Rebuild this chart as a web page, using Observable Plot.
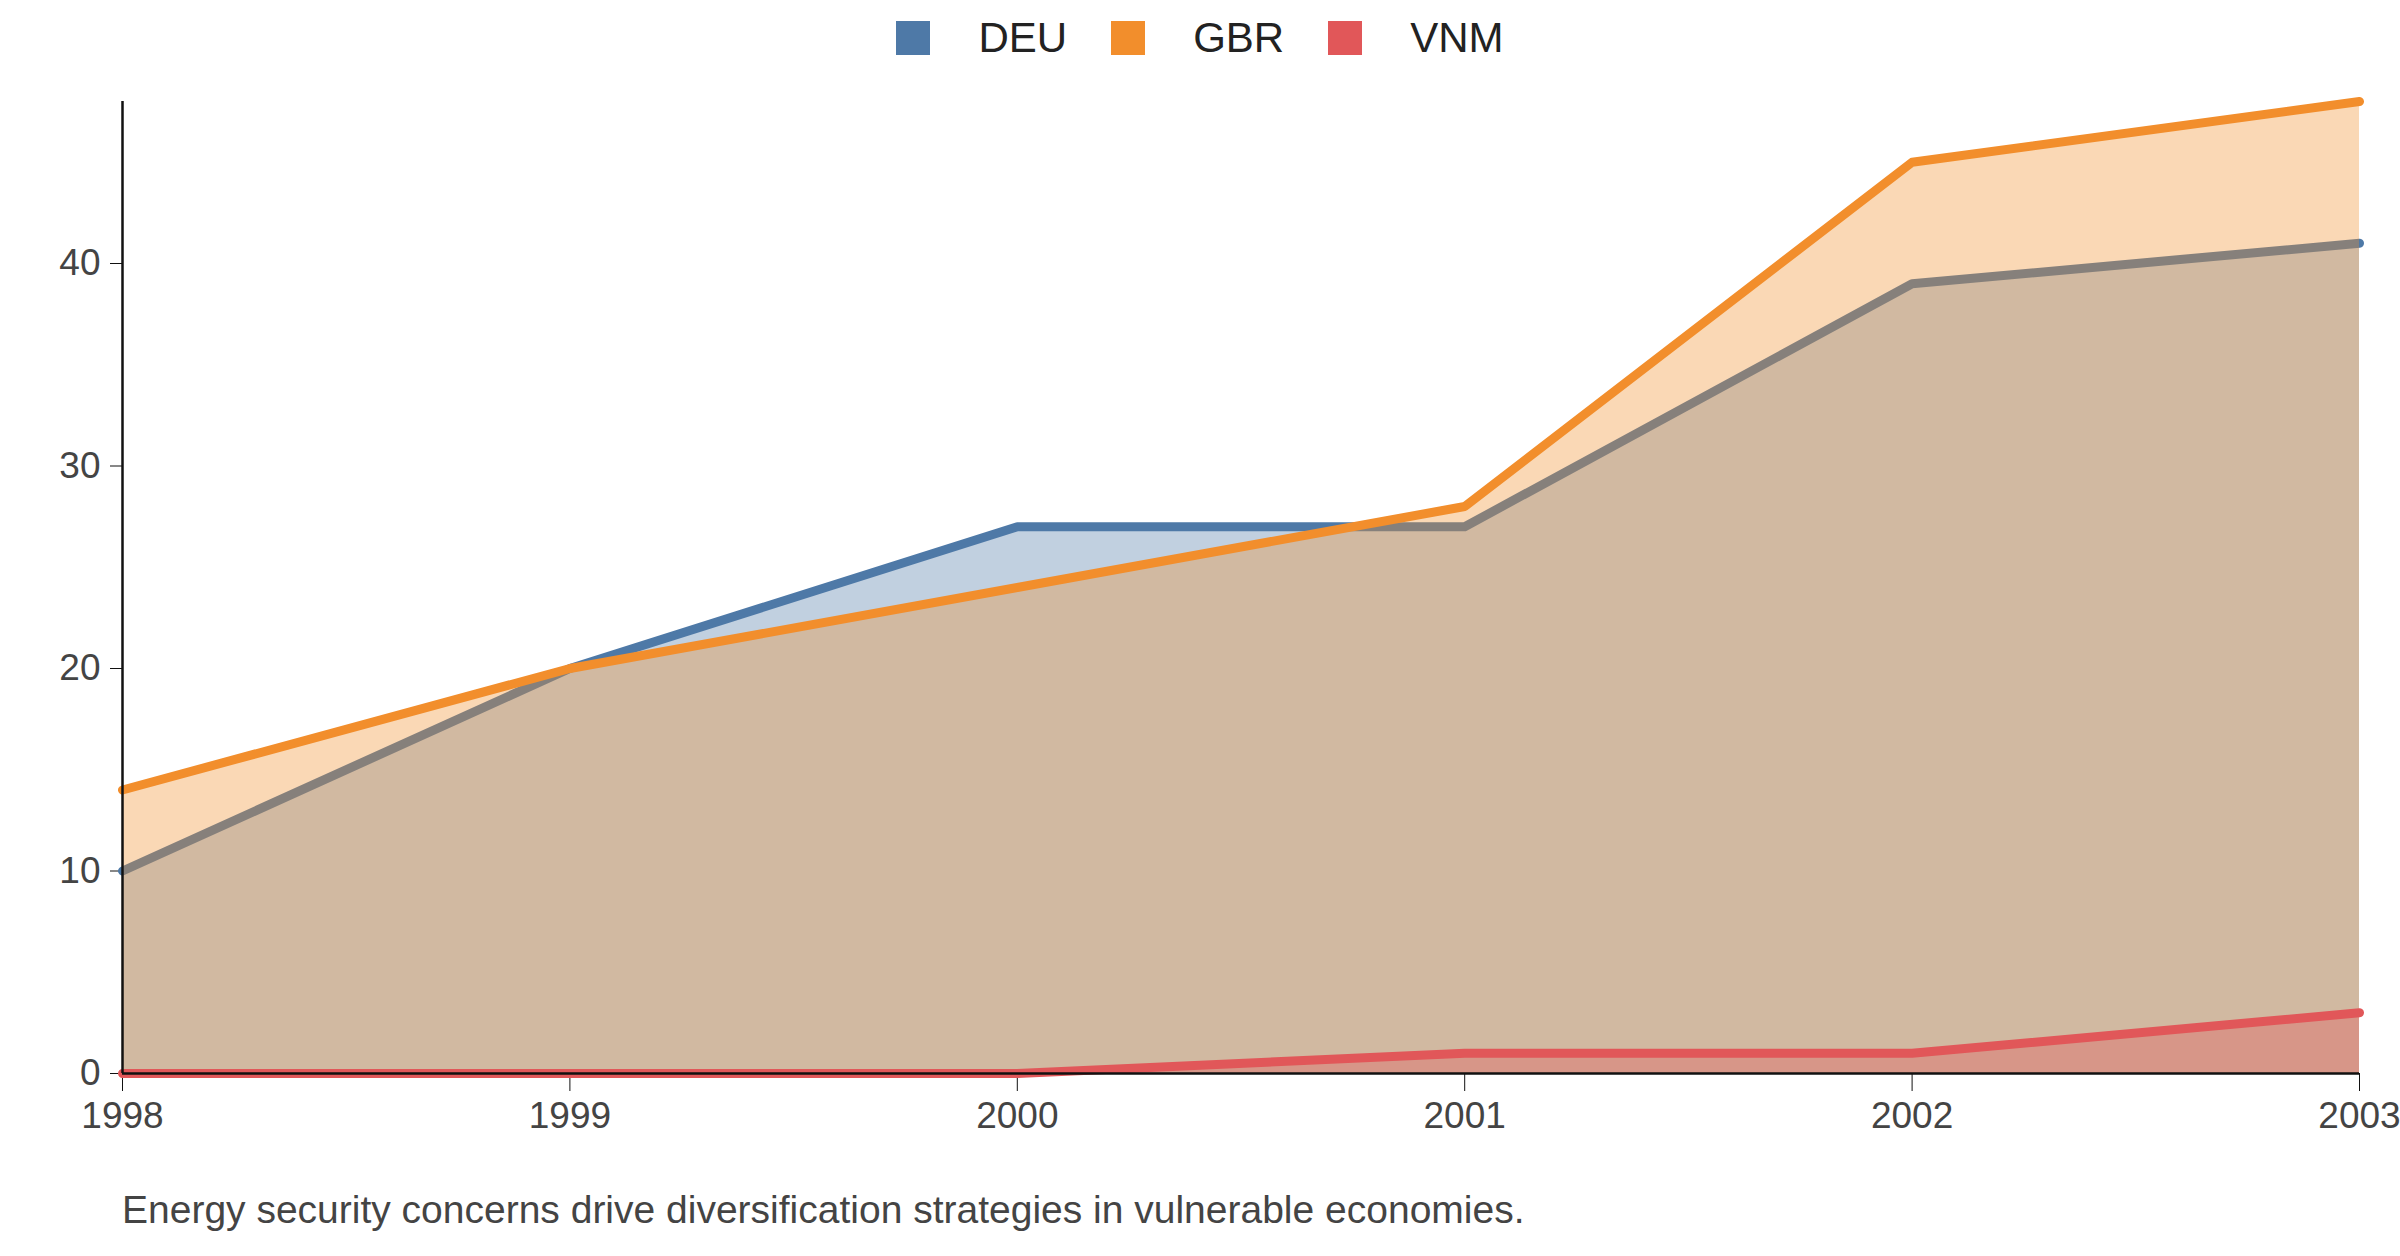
<!DOCTYPE html>
<html><head><meta charset="utf-8">
<script src="https://cdn.jsdelivr.net/npm/d3@7"></script>
<script src="https://cdn.jsdelivr.net/npm/@observablehq/plot@0.6"></script>
<style>
body{margin:0;background:#fff;font-family:Arial,"Liberation Sans",sans-serif;}
#legend{height:75px;display:flex;justify-content:center;align-items:center;gap:0;font-size:42px;color:#222;}
.it{display:flex;align-items:center;margin:0 22px;}
.sw{width:34px;height:34px;margin-right:48px;}
#cap{margin-left:122px;font-size:39px;color:#444;margin-top:8px;}
</style></head><body>
<div id="legend"></div>
<div id="chart"></div>
<div id="cap">Energy security concerns drive diversification strategies in vulnerable economies.</div>
<script>
const years=[1998,1999,2000,2001,2002,2003];
const series=["DEU","GBR","VNM"];
const colors=["#4e79a7","#f28e2c","#e15759"];
const DEU=[10,20,27,27,39,41];
const GBR=[14,20,24,28,45,48];
const VNM=[0,0,0,1,1,3];
const vals={DEU,GBR,VNM};
const lg=document.getElementById("legend");
series.forEach((s,i)=>{lg.insertAdjacentHTML("beforeend",`<div class="it"><div class="sw" style="background:${colors[i]}"></div>${s}</div>`);});
const marks=[];
series.forEach((s,i)=>{
  const d=years.map((y,j)=>({year:y,v:vals[s][j]}));
  marks.push(Plot.areaY(d,{x:"year",y:"v",fill:colors[i],fillOpacity:0.35}));
  marks.push(Plot.lineY(d,{x:"year",y:"v",stroke:colors[i],strokeWidth:9}));
});
marks.push(Plot.ruleY([0],{stroke:"#111",strokeWidth:2.5}));
marks.push(Plot.ruleX([1998],{stroke:"#111",strokeWidth:2.5}));
const p=Plot.plot({
  width:2400,height:1105,marginLeft:122,marginRight:41,marginTop:26,marginBottom:107,
  style:{fontSize:"37px",fontFamily:"Arial,'Liberation Sans',sans-serif",color:"#444"},
  x:{domain:[1998,2003],ticks:years,tickFormat:"d",label:null,tickSize:18,tickPadding:10},
  y:{domain:[0,48],ticks:[0,10,20,30,40],label:null,tickSize:12,tickPadding:10},
  marks:marks
});
p.querySelectorAll("g[aria-label='x-axis tick'] path, g[aria-label='y-axis tick'] path").forEach(e=>e.setAttribute("stroke","#111"));
document.getElementById("chart").appendChild(p);
</script></body></html>
